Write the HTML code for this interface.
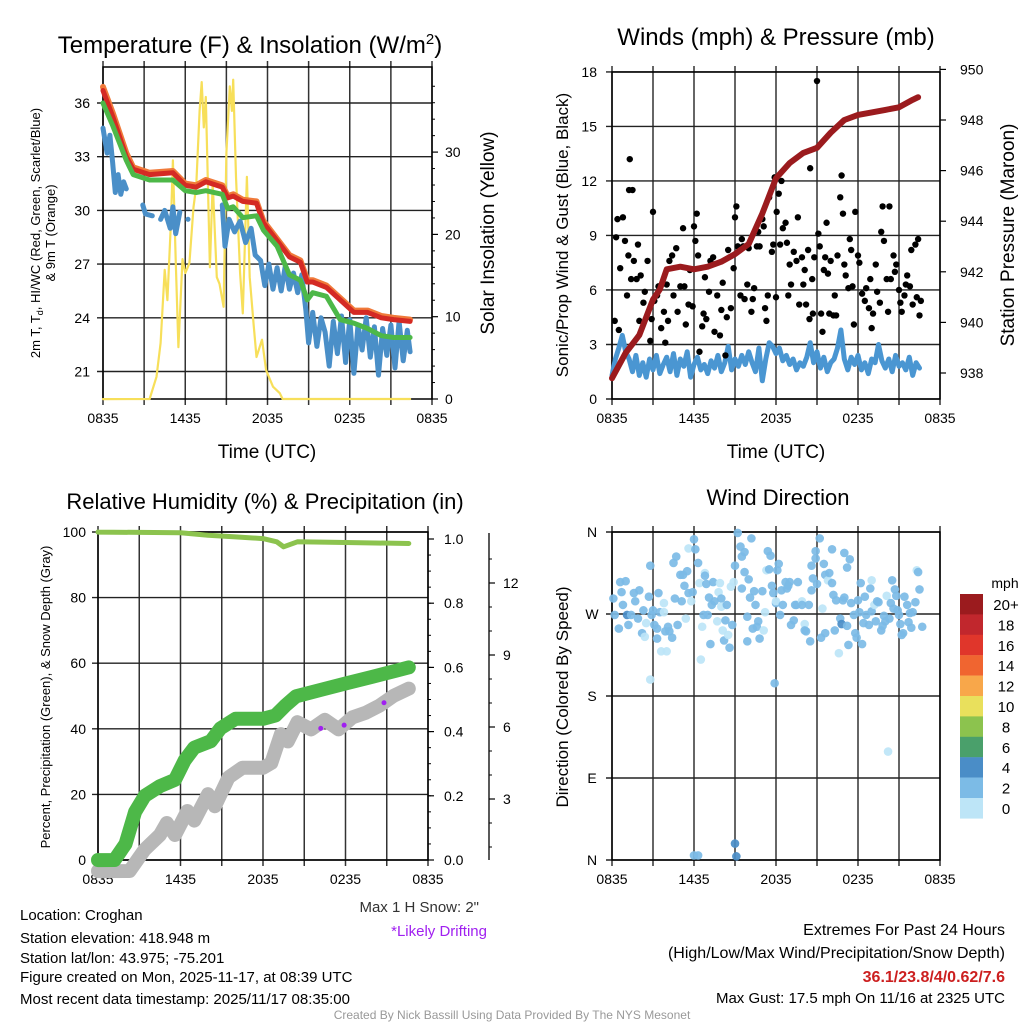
<!DOCTYPE html>
<html><head><meta charset="utf-8"><style>
body{margin:0;background:#fff;}
svg{display:block;font-family:"Liberation Sans",sans-serif;}
</style></head><body>
<svg id="c" width="1024" height="1024" viewBox="0 0 1024 1024" xmlns="http://www.w3.org/2000/svg"></svg>
<script>
// ---------- DATA ----------
const hourTicks = ["0835","1435","2035","0235","0835"];
const tempT = [0,0.73,1.7,2.2,3.4,5.1,6,6.8,7.5,8.7,9.1,9.5,10.2,11.2,11.7,12.7,13.6,14.4,14.9,15.3,16.3,17.3,18.3,19.3,20.3,21.2,22.4];
const tempRed = [36.7,35.2,33.0,32.3,32.0,32.1,31.4,31.3,31.6,31.3,30.7,30.8,30.5,30.4,29.3,28.3,27.4,27.1,26.0,26.0,25.7,25.0,24.3,24.3,24.0,23.9,23.8];
const tempOrange = [36.9,35.4,33.2,32.4,32.1,32.2,31.5,31.4,31.7,31.4,30.8,30.9,30.6,30.5,29.4,28.4,27.5,27.2,26.1,26.1,25.8,25.1,24.4,24.4,24.1,24.0,23.9];
const tempGreen = [36.0,34.7,32.8,32.0,31.7,31.7,31.1,31.0,31.1,30.9,30.1,30.2,29.6,29.7,28.9,28.0,26.4,26.1,25.0,25.4,25.2,23.9,23.7,23.4,23.0,22.9,22.9];
const dewT = [0,0.3,0.5,0.7,0.9,1.1,1.3,1.5,1.7,2.9,3.1,3.6,4.2,4.5,4.9,5.1,5.3,5.6,6.2,8.7,8.9,9.2,9.6,10.0,10.4,10.8,11.1,11.5,11.8,12.1,12.4,12.7,13.0,13.3,13.6,13.9,14.2,14.5,14.8,15.0,15.3,15.6,15.9,16.2,16.5,16.8,17.1,17.4,17.7,18.0,18.3,18.6,18.9,19.2,19.5,19.8,20.1,20.4,20.7,21.0,21.3,21.6,21.9,22.2,22.4];
const dewV = [34.6,33.2,34.2,32.7,31.0,32.0,30.9,31.6,31.2,30.3,29.8,29.7,29.5,30.0,29.0,30.2,28.7,29.9,29.5,30.3,28.0,29.5,28.8,29.4,28.2,29.0,27.5,27.2,25.8,27.0,25.6,26.8,25.5,26.9,25.6,26.5,25.4,26.4,24.4,22.6,24.3,22.4,24.0,23.2,21.3,23.8,22.0,24.1,21.5,23.9,20.9,23.6,22.2,24.0,21.8,23.5,20.8,23.4,21.9,23.6,21.2,23.8,21.6,23.3,22.1];
const insT = [0,3.4,3.9,4.2,4.5,4.7,4.95,5.1,5.3,5.5,5.8,6,6.3,6.6,6.8,7.05,7.2,7.35,7.5,7.8,8,8.3,8.5,8.8,9,9.25,9.4,9.5,9.7,10,10.2,10.5,10.7,11,11.2,11.6,11.9,12.4,12.9,13.1,22.4];
const insV = [0,0,2.7,6.8,15.7,12,21.4,29,16.9,6.3,17,15.3,16.5,23.3,25.8,35,38.5,33,36.7,16,26.3,14.8,14,11.2,29.9,38,35,38.8,27,15.3,10.4,27,14.8,8.8,5.1,7.2,3.5,1.5,0.7,0,0];
const windV = [1.3,2.2,2.8,3.5,2.6,2.2,1.5,2.4,1.3,2.0,1.2,2.2,1.6,2.4,1.4,1.9,2.3,1.5,2.5,1.3,2.2,1.8,2.6,1.2,1.9,2.3,1.6,1.9,1.4,2.1,1.7,2.4,1.5,2.0,2.9,1.6,2.2,1.8,2.4,1.9,2.6,2.0,1.5,2.8,1.0,2.2,3.1,2.9,2.5,2.8,2.1,2.4,1.9,2.2,1.6,2.0,1.8,2.3,3.1,2.0,2.6,1.7,2.3,1.5,2.0,2.2,2.8,3.8,2.2,1.6,2.3,1.9,2.4,1.6,2.0,1.4,2.2,2.0,3.0,2.1,1.7,2.2,1.5,2.4,1.8,2.0,1.6,2.3,1.3,2.0,1.7];
// gust observations: [hours since start, mph]
const gusts = [[0.2,4.3],[0.3,8.9],[0.4,9.9],[0.5,3.8],[0.6,7.2],[0.8,10],[0.95,8.7],[1.1,5.7],[1.2,7.9],[1.25,11.5],[1.3,13.2],[1.5,11.5],[1.4,6.6],[1.6,7.6],[1.8,6.6],[1.9,8.5],[2.0,4.3],[2.1,6.8],[2.3,5.3],[2.4,5.9],[2.6,7.6],[2.8,3.2],[2.9,4.4],[3.0,10.3],[3.1,5.4],[3.3,5.7],[3.4,6.2],[3.6,3.9],[3.8,4.8],[3.9,3.1],[4.0,6.3],[4.1,4.3],[4.2,7.6],[4.4,7.9],[4.5,5.7],[4.7,8.3],[4.8,4.8],[5.0,6.2],[5.2,9.4],[5.3,6.2],[5.4,4.1],[5.6,5.2],[5.7,7.1],[5.9,5.1],[6.0,9.5],[6.1,8.7],[6.2,10.2],[6.3,7.9],[6.4,2.6],[6.6,4.0],[6.7,4.7],[6.8,6.7],[6.9,4.4],[7.1,5.9],[7.2,7.6],[7.4,7.8],[7.5,3.7],[7.7,5.7],[7.9,3.5],[8.0,4.9],[8.1,6.4],[8.3,2.4],[8.4,4.5],[8.5,8.2],[8.7,5.0],[8.9,7.2],[9.0,10.0],[9.1,10.6],[9.2,8.4],[9.4,5.7],[9.5,8.8],[9.6,8.4],[9.7,5.5],[9.9,6.3],[10.0,8.3],[10.2,4.8],[10.3,5.5],[10.4,6.1],[10.6,8.4],[10.7,9.2],[10.8,8.4],[11.0,9.9],[11.1,9.5],[11.2,5.0],[11.3,4.3],[11.4,5.7],[11.5,11.1],[11.7,8.1],[11.8,8.5],[11.9,12.2],[12.0,5.6],[12.05,10.3],[12.2,11.3],[12.3,8.5],[12.4,12.0],[12.5,9.4],[12.7,9.7],[12.8,8.6],[12.9,5.7],[13.0,7.4],[13.1,6.3],[13.3,8.1],[13.5,7.6],[13.6,10.0],[13.7,5.2],[13.9,7.8],[14.0,6.3],[14.1,7.1],[14.2,5.2],[14.35,8.2],[14.45,4.4],[14.5,12.7],[14.65,6.6],[14.7,4.7],[14.8,7.8],[15.0,17.5],[15.1,9.1],[15.2,8.4],[15.3,4.7],[15.4,3.7],[15.5,7.1],[15.6,7.8],[15.7,9.7],[15.8,6.9],[15.9,4.7],[16.0,7.6],[16.2,4.6],[16.3,5.7],[16.4,4.6],[16.5,7.9],[16.7,11.1],[16.8,12.3],[16.9,10.2],[17.0,7.4],[17.1,6.8],[17.3,6.1],[17.4,8.8],[17.5,8.2],[17.6,6.2],[17.7,4.1],[17.8,10.3],[18.0,7.9],[18.1,7.5],[18.3,5.8],[18.5,5.4],[18.6,6.1],[18.8,5.0],[18.9,6.6],[19.0,3.9],[19.1,4.7],[19.3,7.4],[19.4,5.9],[19.6,5.3],[19.7,9.2],[19.8,10.6],[19.9,8.7],[20.1,6.6],[20.2,4.8],[20.3,10.6],[20.4,6.6],[20.6,7.9],[20.7,7.0],[20.8,7.4],[21.0,6.0],[21.1,5.3],[21.2,4.8],[21.4,5.7],[21.5,6.3],[21.6,6.8],[21.8,6.2],[21.9,8.2],[22.0,5.2],[22.2,8.5],[22.3,5.6],[22.4,8.8],[22.5,4.6],[22.6,5.4]];
const presT = [0,1,2,3,3.5,4,5,6,7,8,9,10,11,12,13,14,15,16,17,18,19,20,21,22,22.4];
const presV = [937.8,938.8,939.5,940.9,941.3,942.1,942.2,942.1,942.2,942.4,942.7,943.1,944.3,945.7,946.3,946.7,946.9,947.5,948.0,948.2,948.3,948.4,948.5,948.8,948.9];
const rhT = [0,6,8,10,12,13,13.5,14.5,18,22.6];
const rhV = [100,99.8,99,98.5,98,97,95.5,97,96.8,96.5];
const prT = [0,1.2,2,2.7,3.4,4.5,5.6,6.3,7,8.2,8.9,10,12,12.9,13.6,14.4,16.2,18,19.9,21.7,22.6];
const prV = [0,0,0.05,0.15,0.20,0.23,0.25,0.31,0.35,0.37,0.41,0.44,0.44,0.45,0.48,0.51,0.53,0.55,0.57,0.59,0.60];
const snT = [0,2.3,3.4,4.5,5,5.6,6.5,7,8,8.5,9.5,10.5,12,12.6,13.3,13.8,14.5,15.5,16.5,17.5,18.5,19.5,20.5,21.5,22.6];
const snV = [0,0,0.9,1.5,2.0,1.5,2.5,2.1,3.2,2.7,3.9,4.3,4.3,4.5,5.7,5.4,6.2,5.9,6.3,5.9,6.4,6.6,6.9,7.3,7.6];
const driftT = [16.2,17.9,20.8];
const driftV = [0.41,0.42,0.49];
// wind direction observations: [hours, degrees, speed mph]
const dirObs = [[0.1,287,3],[0.2,269,3],[0.5,254,3],[0.6,305,3],[0.7,294,3],[0.8,280,3],[1.0,306,3],[1.1,269,5],[1.2,258,3],[1.4,269,3],[1.6,293,3],[1.7,284,3],[1.9,265,3],[2.0,296,3],[2.2,249,3],[2.3,274,3],[2.4,245,1],[2.5,260,1],[2.7,289,3],[2.8,323,3],[2.8,198,1],[2.9,269,3],[3.0,274,3],[3.1,258,3],[3.3,254,3],[3.3,243,3],[3.4,293,3],[3.5,272,3],[3.6,229,1],[3.8,282,1],[3.8,272,1],[4.0,229,1],[3.9,251,3],[4.1,256,3],[4.2,251,3],[4.4,244,3],[4.5,326,3],[4.6,287,3],[4.7,333,3],[4.8,258,3],[5.0,313,3],[5.1,284,3],[5.2,313,3],[5.3,301,3],[5.4,265,1],[5.5,317,3],[5.6,293,3],[5.6,342,1],[5.8,284,1],[5.9,294,3],[6.0,352,3],[6.1,341,3],[6.3,326,3],[6.4,304,1],[6.5,220,1],[6.6,256,1],[6.7,269,3],[6.8,315,1],[6.8,312,3],[6.9,303,3],[7.0,269,3],[7.1,288,3],[7.2,237,3],[7.3,280,3],[7.4,305,3],[7.5,284,3],[7.7,262,1],[7.8,294,1],[7.9,304,1],[8.0,287,3],[8.0,278,1],[8.1,252,1],[8.2,241,3],[8.3,263,3],[8.4,280,3],[8.5,247,1],[8.6,233,3],[8.7,300,1],[8.8,258,3],[8.9,305,1],[9.0,323,3],[9.0,18,5],[9.1,4,5],[9.2,359,3],[9.4,344,3],[9.5,333,3],[9.5,298,3],[9.7,338,3],[9.7,316,3],[9.9,240,3],[9.9,267,3],[10.0,308,3],[10.1,288,3],[10.2,353,3],[10.3,254,3],[10.4,295,3],[10.5,280,3],[10.6,256,3],[10.7,262,3],[10.8,243,3],[11.0,295,3],[11.1,252,1],[11.2,272,1],[11.3,318,1],[11.4,339,3],[11.5,319,3],[11.6,334,3],[11.7,301,3],[11.8,293,3],[11.9,194,3],[12.0,282,3],[12.0,284,1],[12.1,318,3],[12.2,325,3],[12.3,269,3],[12.4,296,3],[12.5,280,3],[12.7,305,3],[12.8,298,3],[12.9,301,3],[13.0,305,3],[13.1,258,3],[13.3,263,3],[13.4,280,3],[13.5,280,3],[13.6,305,3],[13.9,284,1],[13.9,280,3],[14.1,259,1],[14.1,252,3],[14.2,251,3],[14.4,280,3],[14.5,240,3],[14.6,296,3],[14.6,323,3],[14.7,309,3],[14.9,339,3],[14.9,331,3],[15.0,303,3],[15.2,353,3],[15.3,244,3],[15.4,276,1],[15.5,325,3],[15.6,313,3],[15.6,249,3],[15.8,307,1],[15.9,315,3],[16.1,341,3],[16.1,304,3],[16.2,291,3],[16.3,252,3],[16.4,285,3],[16.6,227,1],[16.7,265,3],[16.8,259,5],[16.9,285,3],[17.0,288,3],[17.0,337,3],[17.2,257,3],[17.2,321,3],[17.3,236,3],[17.4,330,3],[17.5,282,3],[17.7,269,3],[17.8,249,3],[17.9,244,3],[18.0,285,3],[18.1,272,3],[18.2,304,3],[18.3,237,3],[18.4,260,3],[18.5,289,3],[18.6,269,3],[18.8,258,3],[18.9,298,3],[19.0,307,1],[19.0,273,3],[19.2,280,1],[19.3,262,3],[19.4,284,3],[19.5,283,3],[19.7,252,3],[19.8,257,3],[19.9,268,3],[20.0,262,3],[20.1,290,1],[20.2,119,1],[20.3,265,3],[20.4,282,3],[20.5,307,3],[20.6,276,3],[20.7,297,3],[20.8,290,3],[20.9,274,3],[21.0,269,3],[21.1,259,3],[21.2,247,3],[21.3,249,3],[21.4,289,3],[21.6,280,3],[21.7,261,3],[21.8,271,3],[21.9,255,3],[22.0,272,3],[22.2,283,3],[22.3,318,1],[22.4,316,3],[22.5,297,3],[22.7,256,3],[6.0,5,3],[6.3,5,3]];
const cbLabels = ["20+","18","16","14","12","10","8","6","4","2","0"];
const cbColors = ["#9b1b1e","#c1272d","#e0362b","#f06530","#f8a74a","#e9e05c","#8cc34e","#4aa06b","#4a8dc7","#7cbbe6","#bde5f7"];

// ---------- HELPERS ----------
const NS="http://www.w3.org/2000/svg";
const svg=document.getElementById('c');
function mk(tag,attrs,parent){const e=document.createElementNS(NS,tag);for(const k in attrs)e.setAttribute(k,attrs[k]);(parent||svg).appendChild(e);return e;}
function txt(s,x,y,size,anchor,parent,extra){const e=mk('text',Object.assign({x:x,y:y,'font-size':size,'text-anchor':anchor||'middle',fill:'#000'},extra||{}),parent);e.textContent=s;return e;}
function line(x1,y1,x2,y2,st,w,parent){return mk('line',{x1:x1,y1:y1,x2:x2,y2:y2,stroke:st,'stroke-width':w},parent);}
function poly(ts,vs,sx,sy,color,w,parent,gap){let d='';for(let i=0;i<ts.length;i++){const brk=(i===0)||(gap&&ts[i]-ts[i-1]>gap);d+=(brk?'M':'L')+sx(ts[i]).toFixed(1)+','+sy(vs[i]).toFixed(1);if(brk)d+='l0,0.1';}return mk('path',{d:d,fill:'none',stroke:color,'stroke-width':w,'stroke-linejoin':'round','stroke-linecap':'round'},parent);}
function timeAxis(g,x0,x1,y0,y1){
  const sx=t=>x0+t*(x1-x0)/24;
  for(let k=0;k<=8;k++){const x=sx(k*3);line(x,y0-6,x,y1+6,'#333',1.5,g);}
  hourTicks.forEach((s,i)=>{const l=txt(s,sx(i*6),y1+24,14,'middle',g);});
  return sx;
}

// ---------- PANEL 1 ----------
const g1=mk('g',{});

{
  const x0=103,x1=432,yT=67,yB=399;
  const sx=timeAxis(g1,x0,x1,yT,yB);
  const sy=T=>103+(36-T)*17.9;
  const si=I=>399-I*8.23;
  [21,24,27,30,33,36].forEach(v=>{line(x0-6,sy(v),x1,sy(v),'#222',1.4,g1);txt(String(v),90,sy(v)+5,14,'end',g1);});
  [0,10,20,30].forEach(v=>{line(x1,si(v),x1+6,si(v),'#000',1.2,g1);txt(String(v),445,si(v)+5,14,'start',g1);});
  for(let v=2;v<40;v+=2){if(v%10)line(x1,si(v),x1+3,si(v),'#000',1,g1);}
  mk('rect',{x:x0,y:yT,width:x1-x0,height:yB-yT,fill:'none',stroke:'#000','stroke-width':1.5},g1);
  const ins=poly(insT,insV,sx,si,'#f7df5a',2.2,g1);
  const dew=poly(dewT,dewV,sx,sy,'#4a8fc8',5,g1,0.5);
  const o=poly(tempT,tempOrange,sx,sy,'#f07a3a',6,g1);
  const r=poly(tempT,tempRed,sx,sy,'#d42a24',5,g1);
  const gr=poly(tempT,tempGreen,sx,sy,'#4db848',5,g1);
  const t=txt('Temperature (F) & Insolation (W/m',250,53,24,'middle',g1);
  const sup=mk('tspan',{dy:-9,'font-size':15},t);sup.textContent='2';const cl=mk('tspan',{dy:9},t);cl.textContent=')';
  
  const yl=mk('g',{transform:'translate(0,233) rotate(-90)'},g1);
  const a=txt('2m T, T',0,40,13,'middle',yl);const sb=mk('tspan',{dy:3,'font-size':9},a);sb.textContent='d';const rest=mk('tspan',{dy:-3},a);rest.textContent=', HI/WC (Red, Green, Scarlet/Blue)';
  
  txt('& 9m T (Orange)',0,55,13,'middle',yl);
  const yr=mk('g',{transform:'translate(494,233) rotate(-90)'},g1);
  const r2=txt('Solar Insolation (Yellow)',0,0,19,'middle',yr);
  const xt=txt('Time (UTC)',267,458,19,'middle',g1);
}

// ---------- PANEL 2 ----------
const g2=mk('g',{});

{
  const x0=612,x1=940,yT=72,yB=399;
  const sx=timeAxis(g2,x0,x1,yT,yB);
  const sy=v=>399-v*18.17;
  const sp=p=>373-(p-938)*25.3;
  [0,3,6,9,12,15,18].forEach(v=>{line(x0-6,sy(v),x1,sy(v),'#222',1.4,g2);txt(String(v),597,sy(v)+5,14,'end',g2);});
  [938,940,942,944,946,948,950].forEach(v=>{line(x1,sp(v),x1+6,sp(v),'#000',1.2,g2);txt(String(v),960,sp(v)+5,14,'start',g2);});
  mk('rect',{x:x0,y:yT,width:x1-x0,height:yB-yT,fill:'none',stroke:'#000','stroke-width':1.5},g2);
  const wT=windV.map((v,i)=>i*0.25);
  const w=poly(wT,windV,sx,sy,'#4a96d2',5,g2);
  gusts.forEach(p=>{const c=mk('circle',{cx:sx(p[0]),cy:sy(p[1]),r:3.2,fill:'#000'},g2);
    
    });
  const p=poly(presT,presV,sx,sp,'#9b1b1e',6,g2);
  const t=txt('Winds (mph) & Pressure (mb)',776,45,24,'middle',g2);
  const yl=mk('g',{transform:'translate(568,235) rotate(-90)'},g2);
  const a=txt('Sonic/Prop Wind & Gust (Blue, Black)',0,0,17,'middle',yl);
  const yr=mk('g',{transform:'translate(1014,235) rotate(-90)'},g2);
  const b=txt('Station Pressure (Maroon)',0,0,19,'middle',yr);
  const xt=txt('Time (UTC)',776,458,19,'middle',g2);
}

// ---------- PANEL 3 ----------
const g3=mk('g',{});

{
  const x0=98,x1=428,yT=532,yB=860;
  const sx=timeAxis(g3,x0,x1,yT,yB);
  const sy=v=>860-v*3.28;
  const spr=v=>860-v*321;
  const ssn=v=>871-v*24;
  [0,20,40,60,80,100].forEach(v=>{line(x0-6,sy(v),x1,sy(v),'#222',1.4,g3);txt(String(v),86,sy(v)+5,14,'end',g3);});
  [0,0.2,0.4,0.6,0.8,1.0].forEach(v=>{line(x1,spr(v),x1+6,spr(v),'#000',1.2,g3);txt(v.toFixed(1),444,spr(v)+5,14,'start',g3);});
  for(let v=0.05;v<1;v+=0.05){line(x1,spr(v),x1+3,spr(v),'#000',1,g3);}
  mk('rect',{x:x0,y:yT,width:x1-x0,height:yB-yT,fill:'none',stroke:'#000','stroke-width':1.5},g3);
  line(489,533,489,860,'#000',1.3,g3);
  [3,6,9,12].forEach(v=>{line(489,ssn(v),495,ssn(v),'#000',1.2,g3);txt(String(v),503,ssn(v)+5,14,'start',g3);});
  for(let v=1;v<14;v++){if(v%3)line(489,ssn(v),492,ssn(v),'#000',1,g3);}
  const sn=poly(snT,snV,sx,ssn,'#b7b7b7',14,g3);
  const pr=poly(prT,prV,sx,spr,'#4db848',14,g3);
  driftT.forEach((t,i)=>{const c=mk('circle',{cx:sx(t),cy:spr(driftV[i]),r:2.5,fill:'#a020f0'},g3);
    
    });
  const rh=poly(rhT,rhV,sx,sy,'#8cc34e',5,g3);
  const t=txt('Relative Humidity (%) & Precipitation (in)',265,509,22,'middle',g3);
  const yl=mk('g',{transform:'translate(50,697) rotate(-90)'},g3);
  const a=txt('Percent, Precipitation (Green), & Snow Depth (Gray)',0,0,13,'middle',yl);
}

// ---------- PANEL 4 ----------
const g4=mk('g',{});

{
  const x0=612,x1=940,yT=532,yB=860;
  const sx=timeAxis(g4,x0,x1,yT,yB);
  const sy=d=>860-d/360*328;
  const labs=['N','E','S','W','N'];
  [0,90,180,270,360].forEach((d,i)=>{line(x0-6,sy(d),x1,sy(d),'#222',1.4,g4);txt(labs[i],592,sy(d)+5,14,'middle',g4);});
  mk('rect',{x:x0,y:yT,width:x1-x0,height:yB-yT,fill:'none',stroke:'#000','stroke-width':1.5},g4);
  function col(s){const idx=Math.min(10,Math.floor(s/2));return cbColors[10-idx];}
  dirObs.forEach(o=>{const c=mk('circle',{cx:sx(o[0]),cy:sy(o[1]),r:4.3,fill:col(o[2]),'fill-opacity':0.92},g4);
    
    });
  const t=txt('Wind Direction',778,505,22,'middle',g4);
  const yl=mk('g',{transform:'translate(568,697) rotate(-90)'},g4);
  const a=txt('Direction (Colored By Speed)',0,0,17,'middle',yl);
  const cb=mk('g',{},g4);
  txt('mph',1005,588,14,'middle',cb);
  cbColors.forEach((c,i)=>{const r=mk('rect',{x:960,y:594+i*20.4,width:23,height:20.6,fill:c},cb);
    
    
    txt(cbLabels[i],1006,594+i*20.4+16,15,'middle',cb);});
}

// ---------- FOOTER ----------
const f=mk('g',{});
[['Location: Croghan',920],['Station elevation: 418.948 m',943],['Station lat/lon: 43.975; -75.201',963],['Figure created on Mon, 2025-11-17, at 08:39 UTC',982],['Most recent data timestamp: 2025/11/17 08:35:00',1004]].forEach(a=>txt(a[0],20,a[1],15,'start',f));
txt('Max 1 H Snow: 2"',479,912,15,'end',f,{fill:'#333'});
txt('*Likely Drifting',487,936,15,'end',f,{fill:'#a020f0'});
txt('Extremes For Past 24 Hours',1005,935,16,'end',f);
txt('(High/Low/Max Wind/Precipitation/Snow Depth)',1005,958,16,'end',f);
txt('36.1/23.8/4/0.62/7.6',1005,982,16,'end',f,{fill:'#cc1f1f','font-weight':'bold'});
txt('Max Gust: 17.5 mph On 11/16 at 2325 UTC',1005,1003,15,'end',f);
txt('Created By Nick Bassill Using Data Provided By The NYS Mesonet',512,1019,12,'middle',f,{fill:'#999'});
</script>
</body></html>
